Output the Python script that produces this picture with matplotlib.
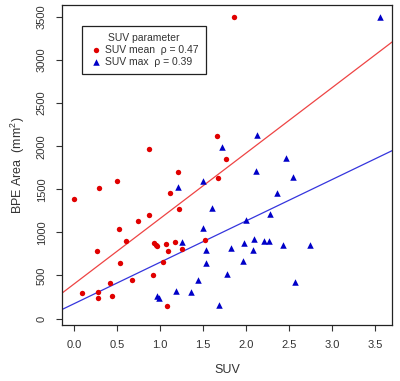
import matplotlib
matplotlib.use("Agg")
import matplotlib.pyplot as plt
import numpy as np

# SUV mean (red circles)
mean_x = [0.00, 0.09, 0.29, 0.27, 0.28, 0.28, 0.50, 0.52, 0.53, 0.42, 0.44, 0.61,
          0.68, 0.75, 0.87, 0.87, 0.92, 0.93, 0.95, 0.97, 1.03, 1.07, 1.09, 1.08,
          1.12, 1.17, 1.21, 1.22, 1.26, 1.66, 1.77, 1.67, 1.52, 1.86]
mean_y = [1390, 296, 1520, 788, 305, 234, 1592, 1042, 648, 418, 257, 901,
          445, 1132, 1970, 1198, 507, 874, 851, 847, 655, 866, 788, 150,
          1452, 886, 1701, 1272, 808, 2115, 1854, 1632, 909, 3500]

# SUV max (blue triangles)
max_x = [1.21, 1.26, 0.97, 0.99, 1.19, 1.36, 1.44, 1.50, 1.61, 1.50, 1.53, 1.54,
         1.69, 1.72, 1.78, 1.83, 2.13, 2.12, 2.47, 2.55, 2.36, 2.28, 2.00, 2.09,
         2.21, 2.27, 1.98, 2.43, 2.75, 2.08, 1.97, 2.57, 3.56]
max_y = [1525, 886, 261, 242, 319, 308, 453, 1600, 1280, 1050, 796, 648,
         152, 1986, 512, 816, 2127, 1713, 1861, 1639, 1459, 1210, 1140, 925,
         905, 898, 878, 855, 855, 796, 663, 425, 3500]

# fitted lines (intercept, slope)
mean_fit = (401, 759)
max_fit = (172, 480)

plt.rcParams["font.family"] = ["Liberation Sans", "DejaVu Sans"]
plt.rcParams["mathtext.fontset"] = "custom"
plt.rcParams["mathtext.rm"] = "Liberation Sans"
fig = plt.figure(figsize=(4, 3.81), dpi=100)
ax = fig.add_axes([0.155, 0.147, 0.825, 0.84])

txt = "#333333"
ax.scatter(mean_x, mean_y, s=15, marker="o", color="#E00000", zorder=3, linewidths=0)
ax.scatter(max_x, max_y, s=22, marker="^", color="#0000C8", zorder=3, linewidths=0)

ax.set_xlim(-0.14, 3.70)
ax.set_ylim(-75, 3640)
xs = np.array(ax.get_xlim())
ax.plot(xs, mean_fit[0] + mean_fit[1] * xs, color="#EE4444", lw=0.9)
ax.plot(xs, max_fit[0] + max_fit[1] * xs, color="#3535DD", lw=0.9)
ax.set_xlim(-0.14, 3.70)

ax.set_xticks(np.arange(0, 3.51, 0.5))
ax.set_yticks(np.arange(0, 3501, 500))
ax.tick_params(axis="both", labelsize=8, colors=txt, length=4, width=0.8, pad=7)
for lab in ax.get_yticklabels():
    lab.set_rotation(90)
    lab.set_va("center")
for sp in ax.spines.values():
    sp.set_color("#222222")
    sp.set_linewidth(0.9)

ax.set_xlabel("SUV", fontsize=9, color=txt, labelpad=10)
ax.set_ylabel("BPE Area  (mm$\\mathrm{^2}$)", fontsize=9, color=txt, labelpad=7)

h1 = ax.scatter([], [], s=15, marker="o", color="#E00000", linewidths=0)
h2 = ax.scatter([], [], s=22, marker="^", color="#0000C8", linewidths=0)
leg = ax.legend([h1, h2], ["SUV mean  ρ = 0.47", "SUV max  ρ = 0.39"],
                title="SUV parameter", loc="upper left",
                bbox_to_anchor=(0.045, 0.95), fontsize=7.5, title_fontsize=7.5,
                fancybox=False, framealpha=1, edgecolor="#222222",
                handletextpad=0.3, handlelength=1.2, borderpad=0.7,
                labelspacing=0.15, labelcolor=txt)
leg.get_frame().set_linewidth(0.9)
leg.get_title().set_color(txt)

fig.savefig("out.png", dpi=100)
